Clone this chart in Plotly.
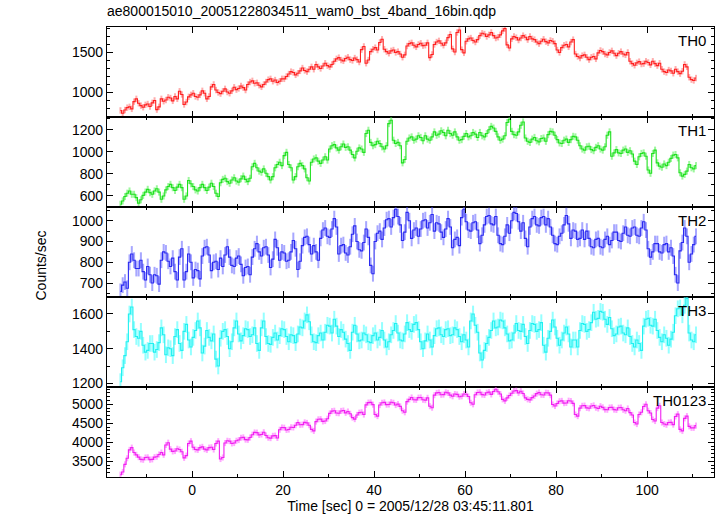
import plotly.graph_objects as go
from plotly.subplots import make_subplots

# time bins (0.5 s), bin centres start at T0
T0 = -15.75
DT = 0.5

th0 = [770,735, 775,805, 815,790, 880,915, 860,830, 810,840, 850,820, 865,895, 780,815, 915,885,
       900,935, 925,890, 945,915, 1010,970, 845,875, 940,965, 985,945, 935,965, 1015,985, 915,945,
       1065,1095, 1025,995, 980,1010, 1040,1000, 985,1015, 1060,1030, 1045,1075, 1055,1025, 1095,1125, 1140,1110,
       1115,1085, 1065,1095, 1125,1155, 1165,1135, 1150,1120, 1135,1165, 1165,1195, 1225,1255, 1245,1215, 1235,1265,
       1300,1270, 1255,1285, 1315,1285, 1345,1315, 1295,1325, 1360,1330, 1315,1345, 1385,1415, 1430,1400, 1390,1420,
       1435,1405, 1395,1425, 1405,1375, 1530,1570, 1360,1400, 1505,1535, 1555,1525, 1620,1660, 1535,1505, 1485,1515,
       1525,1495, 1505,1475, 1435,1465, 1575,1605, 1615,1585, 1565,1595, 1610,1580, 1585,1615, 1430,1470, 1595,1625,
       1640,1610, 1585,1615, 1680,1720, 1540,1500, 1745,1775, 1530,1490, 1635,1665, 1675,1645, 1625,1655, 1705,1735,
       1725,1695, 1715,1745, 1705,1675, 1685,1715, 1765,1795, 1590,1550, 1665,1695, 1680,1650, 1675,1705, 1685,1655,
       1695,1665, 1655,1625, 1605,1635, 1660,1630, 1615,1645, 1635,1605, 1525,1495, 1555,1585, 1595,1565, 1625,1655,
       1475,1445, 1425,1455, 1465,1435, 1405,1435, 1445,1415, 1490,1520, 1505,1475, 1465,1495, 1515,1485, 1455,1485,
       1505,1475, 1465,1495, 1385,1355, 1335,1365, 1380,1350, 1355,1385, 1370,1340, 1385,1355, 1330,1360, 1285,1255,
       1245,1275, 1265,1235, 1285,1255, 1230,1260, 1345,1315, 1185,1155, 1145,1175]

th1 = [525,555, 595,625, 645,615, 615,585, 535,565, 605,635, 660,630, 615,645, 665,635, 570,600,
       655,685, 705,675, 650,680, 705,675, 570,600, 740,710, 685,655, 645,675, 705,675, 650,680,
       715,685, 625,595, 720,750, 760,730, 715,745, 765,735, 725,755, 780,750, 730,760, 865,895,
       855,825, 815,845, 805,775, 745,775, 855,885, 905,875, 965,995, 885,855, 745,775, 865,895,
       875,845, 765,735, 905,935, 945,915, 895,925, 955,925, 1025,1055, 1065,1035, 1015,1045, 1070,1040,
       1045,1015, 975,945, 1005,1035, 1025,995, 1165,1195, 1085,1055, 1065,1095, 1075,1045, 1025,1055, 1255,1285,
       1105,1075, 1085,1055, 900,930, 1095,1125, 1135,1105, 1115,1145, 1130,1100, 1145,1115, 1105,1135, 1180,1150,
       1160,1190, 1175,1145, 1195,1165, 1150,1180, 1135,1105, 1110,1140, 1165,1135, 1145,1175, 1160,1130, 1175,1145,
       1135,1165, 1200,1230, 1215,1185, 1135,1105, 1115,1145, 1265,1295, 1185,1155, 1150,1180, 1240,1270, 1125,1095,
       1085,1115, 1130,1100, 1090,1120, 1125,1095, 1155,1185, 1180,1150, 1110,1080, 1075,1105, 1115,1085, 1110,1140,
       1135,1105, 1055,1025, 1015,1045, 1050,1020, 1010,1040, 1055,1025, 1015,1045, 1150,1180, 960,990, 1020,990,
       985,1015, 1025,995, 1010,980, 915,885, 955,985, 990,960, 835,805, 985,1015, 900,870, 860,890,
       875,905, 940,970, 975,945, 810,780, 795,825, 885,855, 845,875]

th2 = [660,690, 705,675, 800,840, 810,770, 770,810, 755,715, 780,740, 700,740, 735,695, 810,850,
       845,805, 780,820, 755,715, 825,865, 715,755, 840,800, 725,765, 760,720, 830,870, 875,835,
       760,800, 805,765, 820,780, 835,875, 825,785, 780,820, 830,790, 735,775, 780,740, 825,865,
       890,850, 830,870, 875,835, 775,815, 910,870, 810,850, 845,805, 810,850, 905,865, 765,805,
       880,920, 925,885, 840,880, 850,810, 915,955, 965,925, 920,960, 1010,970, 840,880, 885,845,
       835,875, 935,975, 900,860, 855,895, 960,920, 785,745, 900,940, 950,910, 965,1005, 1010,970,
       1015,1055, 1020,980, 905,945, 1040,1000, 915,955, 965,925, 960,1000, 1005,965, 990,1030, 950,990,
       985,945, 920,960, 1010,970, 870,910, 920,880, 1015,1055, 995,955, 950,990, 995,955, 890,930,
       980,1020, 1025,985, 980,1020, 930,890, 885,925, 980,940, 1000,1040, 1035,995, 950,990, 915,875,
       970,1010, 1020,980, 975,1015, 1020,980, 1010,970, 930,890, 885,925, 940,980, 1025,985, 915,955,
       950,910, 915,955, 910,950, 915,875, 870,910, 915,875, 870,910, 925,885, 905,945, 945,905,
       900,940, 970,930, 925,965, 970,930, 925,965, 995,955, 865,825, 850,890, 890,850, 845,885,
       890,850, 870,830, 740,700, 855,895, 965,925, 800,840, 885,925]

th3 = [1210,1290, 1360,1440, 1600,1640, 1510,1470, 1460,1500, 1420,1380, 1390,1430, 1430,1380, 1395,1435, 1520,1480,
       1365,1405, 1400,1360, 1470,1510, 1430,1390, 1500,1540, 1450,1410, 1465,1505, 1560,1520, 1375,1415, 1505,1465,
       1445,1485, 1340,1300, 1460,1500, 1510,1470, 1400,1440, 1520,1560, 1485,1445, 1475,1515, 1510,1470, 1480,1520,
       1430,1390, 1520,1560, 1470,1430, 1425,1465, 1490,1450, 1475,1515, 1510,1470, 1440,1480, 1475,1435, 1485,1525,
       1520,1560, 1595,1555, 1480,1440, 1435,1475, 1490,1450, 1495,1535, 1530,1490, 1570,1530, 1470,1510, 1495,1455,
       1430,1390, 1495,1535, 1485,1445, 1450,1490, 1480,1440, 1435,1475, 1490,1450, 1465,1505, 1450,1410, 1440,1480,
       1505,1545, 1490,1450, 1445,1485, 1550,1510, 1500,1540, 1550,1510, 1440,1400, 1445,1485, 1450,1410, 1475,1515,
       1520,1480, 1470,1510, 1515,1475, 1480,1520, 1510,1470, 1440,1480, 1450,1410, 1560,1600, 1535,1495, 1375,1335,
       1390,1430, 1465,1505, 1560,1520, 1525,1565, 1560,1520, 1485,1445, 1450,1490, 1545,1505, 1500,1540, 1470,1430,
       1505,1545, 1540,1500, 1510,1550, 1420,1380, 1460,1500, 1565,1525, 1460,1420, 1450,1490, 1525,1485, 1410,1450,
       1450,1410, 1505,1545, 1540,1500, 1510,1550, 1610,1570, 1575,1615, 1610,1570, 1540,1580, 1515,1475, 1485,1525,
       1530,1490, 1480,1520, 1470,1430, 1410,1450, 1430,1390, 1530,1570, 1575,1535, 1530,1570, 1505,1465, 1440,1480,
       1460,1420, 1455,1495, 1590,1630, 1635,1595, 1650,1690, 1490,1450, 1440,1480]

th0123 = [3150,3220, 3420,3580, 3800,3860, 3730,3670, 3610,3550, 3540,3600, 3605,3545, 3550,3610, 3620,3680, 3730,3670,
          3930,3990, 3820,3760, 3770,3830, 3810,3750, 3590,3650, 3970,4030, 3870,3810, 3800,3860, 3880,3820, 3800,3860,
          3870,3810, 3970,4030, 3560,3600, 3980,4040, 4030,3970, 3980,4040, 4060,4120, 4130,4070, 4065,4125, 4200,4260,
          4255,4195, 4205,4265, 4180,4120, 4110,4170, 4175,4115, 4330,4390, 4385,4325, 4335,4395, 4390,4450, 4520,4460,
          4465,4525, 4510,4450, 4340,4300, 4545,4605, 4610,4550, 4560,4620, 4760,4820, 4830,4770, 4765,4825, 4835,4775,
          4810,4750, 4650,4610, 4720,4780, 4790,4730, 4985,5045, 5050,4990, 4730,4690, 4980,5040, 5050,4990, 4995,5055,
          5040,4980, 5005,4945, 4830,4790, 5070,5130, 5180,5120, 5115,5175, 5180,5120, 5110,5170, 4950,4910, 5240,5300,
          5310,5250, 5255,5315, 5300,5240, 5210,5270, 5260,5200, 5210,5270, 5265,5205, 5040,5000, 5250,5310, 5315,5255,
          5245,5305, 5320,5260, 5335,5395, 5330,5270, 5130,5090, 5170,5230, 5290,5350, 5360,5300, 5345,5285, 5170,5130,
          5115,5175, 5220,5280, 5310,5250, 5245,5305, 5300,5240, 4995,4955, 5020,5080, 5090,5030, 5035,5095, 5085,5025,
          4730,4690, 4900,4960, 4965,4905, 4895,4955, 4970,4910, 4890,4950, 4920,4860, 4855,4915, 4920,4860, 4850,4910,
          4915,4855, 4830,4890, 4780,4720, 4520,4480, 4730,4790, 4940,5000, 4830,4770, 4600,4560, 4900,4960, 4520,4480,
          4460,4520, 4525,4465, 4680,4740, 4340,4300, 4630,4690, 4420,4380, 4380,4440]

names = ["TH0", "TH1", "TH2", "TH3", "TH0123"]
series = [th0, th1, th2, th3, th0123]
errors = [40, 32, 38, 48, 80]
line_colors = ["#ff2020", "#20e020", "#2a2af0", "#20f0f0", "#f020f0"]
err_colors = ["rgba(255,90,90,0.5)", "rgba(60,240,60,0.5)", "rgba(80,80,255,0.5)",
              "rgba(60,255,255,0.55)", "rgba(255,80,255,0.5)"]
y_ranges = [[688, 1813], [500, 1315], [633, 1066], [1179, 1698], [3087, 5455]]
y_dticks = [500, 200, 100, 200, 500]
y_minor = [100, 100, 50, 100, 100]

x_range = [-18.7, 114.7]

FONT = "Liberation Sans, Arial, Helvetica, sans-serif"

fig = make_subplots(rows=5, cols=1, shared_xaxes=True, vertical_spacing=0)

for i, (nm, ys) in enumerate(zip(names, series)):
    t = [T0 + DT * k for k in range(len(ys))]
    fig.add_trace(go.Scatter(
        x=t, y=ys, mode="lines", line=dict(color=line_colors[i], width=1.1, shape="hvh"),
        error_y=dict(type="constant", value=errors[i], color=err_colors[i], thickness=2.0, width=0),
        showlegend=False, name=nm), row=i + 1, col=1)

for i in range(5):
    r = i + 1
    fig.update_yaxes(range=y_ranges[i], dtick=y_dticks[i], tick0=0, ticks="inside", ticklen=6,
                     tickwidth=1, tickcolor="black",
                     minor=dict(dtick=y_minor[i], ticks="inside", ticklen=3, tickcolor="black"),
                     showline=True, linecolor="black", linewidth=1.2, mirror="ticks",
                     showgrid=False, zeroline=False,
                     tickfont=dict(size=14, color="black", family=FONT), row=r, col=1)
    fig.update_xaxes(range=x_range, dtick=20, tick0=0, ticks="inside", ticklen=6,
                     tickwidth=1, tickcolor="black",
                     minor=dict(dtick=10, ticks="inside", ticklen=3, tickcolor="black"),
                     showline=True, linecolor="black", linewidth=1.2, mirror="ticks",
                     showgrid=False, zeroline=False, showticklabels=(r == 5),
                     tickfont=dict(size=14, color="black", family=FONT), row=r, col=1)

fig.update_xaxes(title=dict(text="Time [sec] 0 = 2005/12/28 03:45:11.801",
                            font=dict(size=14, color="black", family=FONT), standoff=4), row=5, col=1)

for i, nm in enumerate(names):
    yref = "y domain" if i == 0 else "y%d domain" % (i + 1)
    fig.add_annotation(text=nm, xref="paper", yref=yref, x=0.99, y=0.97,
                       xanchor="right", yanchor="top", showarrow=False,
                       font=dict(size=15, color="black", family=FONT))

fig.add_annotation(text="Counts/sec", xref="paper", yref="paper",
                   x=(40 - 107) / 607, y=0.47, textangle=-90, showarrow=False,
                   xanchor="center", yanchor="middle",
                   font=dict(size=14, color="black", family=FONT))

fig.update_layout(
    width=717, height=516,
    margin=dict(l=107, r=3, t=27, b=39),
    paper_bgcolor="white", plot_bgcolor="white",
    title=dict(text="ae800015010_20051228034511_wam0_bst_4band_16bin.qdp",
               x=107 / 717, xanchor="left", y=0.978, yanchor="middle",
               font=dict(size=14, color="black", family=FONT)),
)

fig.write_html("out.html", config={"displayModeBar": False},
               post_script="document.body.style.margin='0px';document.body.style.overflow='hidden';")
